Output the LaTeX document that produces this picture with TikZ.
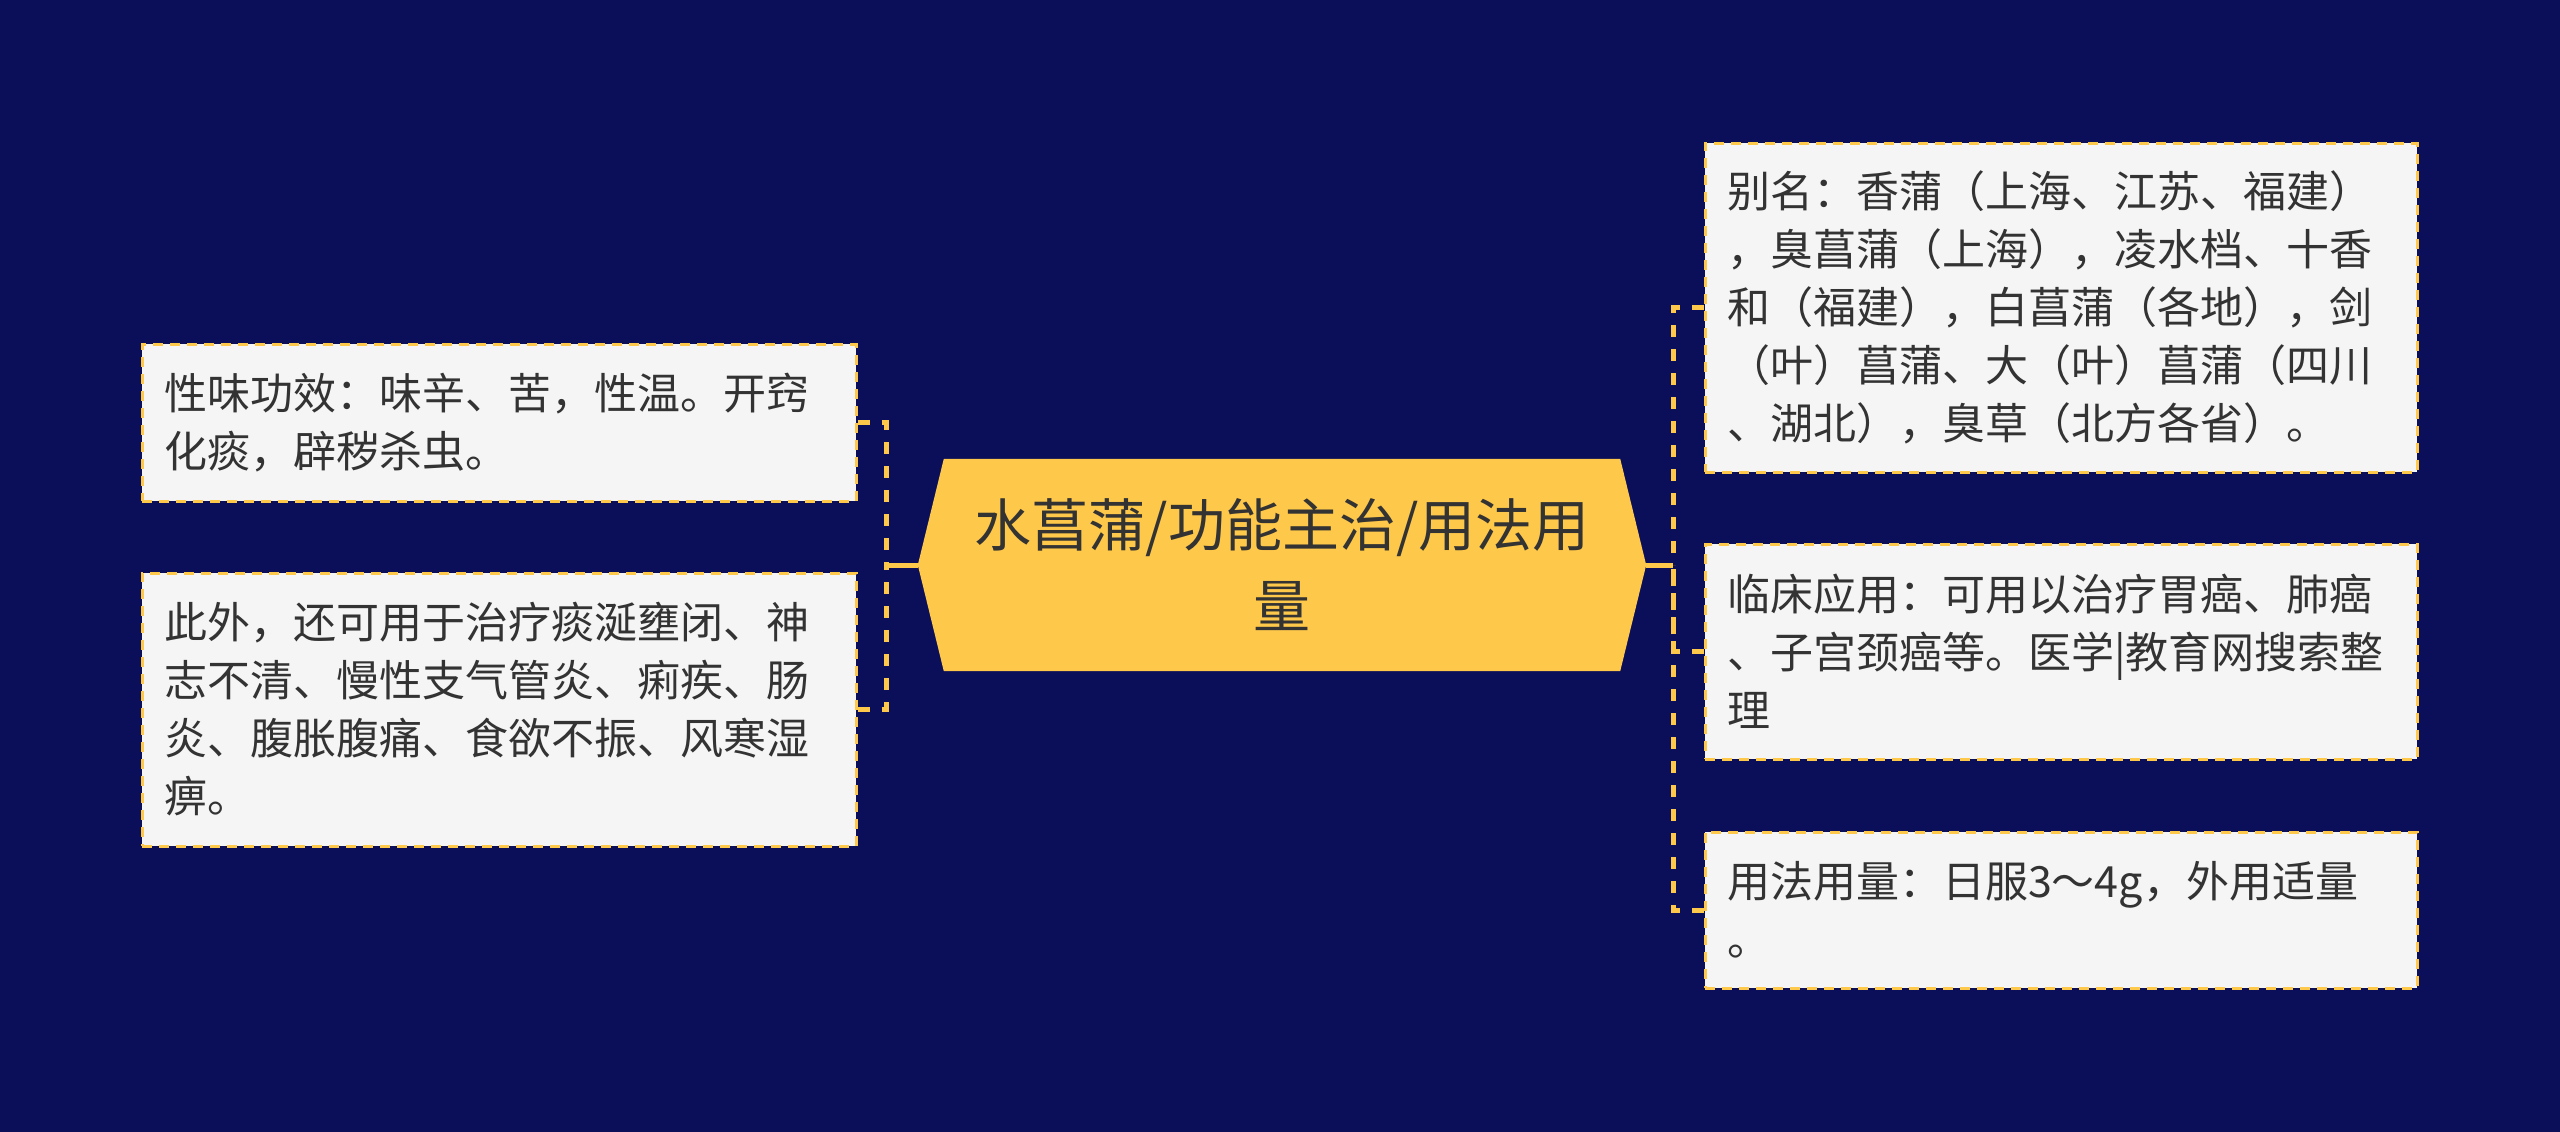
\documentclass[tikz,border=0pt]{standalone}
\usepackage{fontspec}
\setmainfont{Noto Sans CJK SC}
\usetikzlibrary{calc}
\definecolor{bgnavy}{HTML}{0B0E59}
\definecolor{gold}{HTML}{FEC84A}
\definecolor{boxfill}{HTML}{F5F5F5}
\definecolor{txt}{HTML}{333333}
\pgfdeclarelayer{background}
\pgfsetlayers{background,main}
\begin{document}
\begin{tikzpicture}[x=1pt,y=-1pt,
  leaf/.style={rectangle, fill=boxfill, draw=gold, line width=3pt,
    dash pattern=on 10pt off 7pt, text=txt,
    font=\fontsize{43}{58}\selectfont, align=left,
    inner xsep=22pt, inner ysep=0pt, text width=#1},
  rootnode/.style={rectangle, minimum width=728pt, minimum height=212pt,
    inner sep=0pt, align=center, text=txt, font=\fontsize{57}{81}\selectfont},
  conn/.style={draw=gold, line width=5pt, dash pattern=on 12pt off 12pt},
  trunk/.style={draw=gold, line width=5pt}
]
\useasboundingbox (0,0) rectangle (2560,1132);

% central node
\node[rootnode] (root) at (1282,565) {水菖蒲/功能主治/用法用\\量};

% left leaves
\node[leaf=670pt, minimum height=157pt] (l1) at (499,422.5)
  {性味功效：味辛、苦，性温。开窍\\化痰，辟秽杀虫。};
\node[leaf=670pt, minimum height=273pt] (l2) at (499,709.5)
  {此外，还可用于治疗痰涎壅闭、神\\志不清、慢性支气管炎、痢疾、肠\\炎、腹胀腹痛、食欲不振、风寒湿\\痹。};

% right leaves
\node[leaf=668pt, minimum height=329pt] (r1) at (2061,307.5)
  {别名：香蒲（上海、江苏、福建）\\，臭菖蒲（上海），凌水档、十香\\和（福建），白菖蒲（各地），剑\\（叶）菖蒲、大（叶）菖蒲（四川\\、湖北），臭草（北方各省）。};
\node[leaf=668pt, minimum height=215pt] (r2) at (2061,651.5)
  {临床应用：可用以治疗胃癌、肺癌\\、子宫颈癌等。医学|教育网搜索整\\理};
\node[leaf=668pt, minimum height=156pt] (r3) at (2061,910)
  {用法用量：日服3～4g，外用适量\\。};

% junctions
\coordinate (lj) at (886,565);
\coordinate (rj) at (1673,565);

% connectors
\draw[trunk] (root.west) -- (lj);
\draw[conn] (l1.east) -| (lj);
\draw[conn] (l2.east) -| (lj);
\draw[trunk] (root.east) -- (rj);
\draw[conn] (r1.west) -| (rj);
\draw[conn] (r2.west) -| (rj);
\draw[conn] (r3.west) -| (rj);

\begin{pgfonlayer}{background}
\fill[bgnavy] (0,0) rectangle (2560,1132);
\fill[gold] (root.west) -- ($(root.north west)+(26,0)$) -- ($(root.north east)+(-26,0)$)
  -- (root.east) -- ($(root.south east)+(-26,0)$) -- ($(root.south west)+(26,0)$) -- cycle;
\end{pgfonlayer}
\end{tikzpicture}
\end{document}
